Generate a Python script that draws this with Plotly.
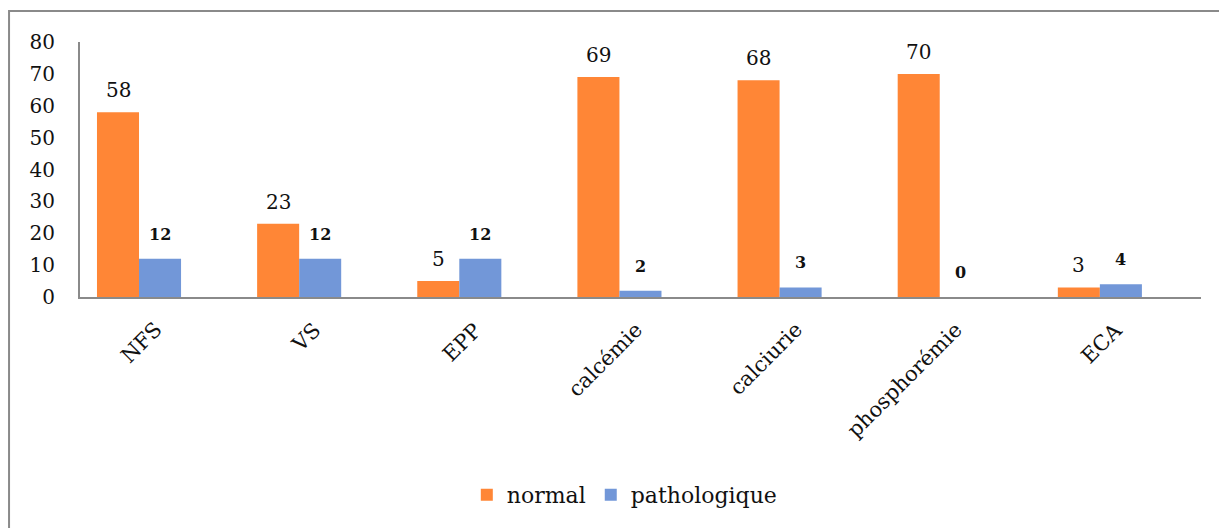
import plotly.graph_objects as go

categories = ["NFS", "VS", "EPP", "calcémie", "calciurie", "phosphorémie", "ECA"]
normal = [58, 23, 5, 69, 68, 70, 3]
pathologique = [12, 12, 12, 2, 3, 0, 4]
y_ticks = [0, 10, 20, 30, 40, 50, 60, 70, 80]

ORANGE = "#FF8636"
BLUE = "#7297D8"
SERIF = "DejaVu Serif, serif"
TXT = "#111111"

fig = go.Figure()
fig.add_trace(go.Bar(x=categories, y=normal, name="normal",
                     marker=dict(color=ORANGE, line=dict(width=0))))
fig.add_trace(go.Bar(x=categories, y=pathologique, name="pathologique",
                     marker=dict(color=BLUE, line=dict(width=0))))

# value labels above each bar
for cat, v in zip(categories, normal):
    fig.add_annotation(x=cat, y=v, text=str(v), showarrow=False,
                       xshift=-21, yanchor="bottom", yshift=8,
                       font=dict(family=SERIF, size=20, color=TXT))
for cat, v in zip(categories, pathologique):
    fig.add_annotation(x=cat, y=v, text=f"<b>{v}</b>", showarrow=False,
                       xshift=21, yanchor="bottom", yshift=13,
                       font=dict(family=SERIF, size=16, color=TXT))

# rotated category labels under the axis
for cat in categories:
    fig.add_annotation(x=cat, y=0, text=cat, showarrow=False, textangle=-45,
                       xanchor="right", yanchor="top", xshift=30, yshift=-18,
                       font=dict(family=SERIF, size=21, color=TXT))

# outer frame
fig.add_shape(type="rect", xref="paper", yref="paper",
              x0=-0.0633, x1=1.1, y0=-1.2, y1=1.1216,
              line=dict(color="#8a8a8a", width=2), fillcolor="rgba(0,0,0,0)")

fig.update_layout(
    width=1219, height=528,
    margin=dict(l=80, r=18, t=42, b=231),
    paper_bgcolor="white", plot_bgcolor="white",
    barmode="group", bargap=0.475, bargroupgap=0,
    font=dict(family=SERIF, size=20, color=TXT),
    showlegend=True,
    legend=dict(orientation="h", x=0.486, xanchor="center",
                y=-0.776, yanchor="middle",
                font=dict(family=SERIF, size=22, color=TXT),
                itemwidth=30, tracegroupgap=0),
)
fig.update_xaxes(showline=True, linecolor="#8a8a8a", linewidth=2,
                 range=[-0.3685, 6.6315], showticklabels=False,
                 ticks="", showgrid=False)
fig.update_yaxes(range=[0, 80], tickvals=y_ticks, showline=True,
                 linecolor="#8a8a8a", linewidth=2, ticks="", showgrid=False,
                 zeroline=False,
                 tickfont=dict(family=SERIF, size=20, color=TXT),
                 ticklabelstandoff=19)

fig.write_html("out.html")
